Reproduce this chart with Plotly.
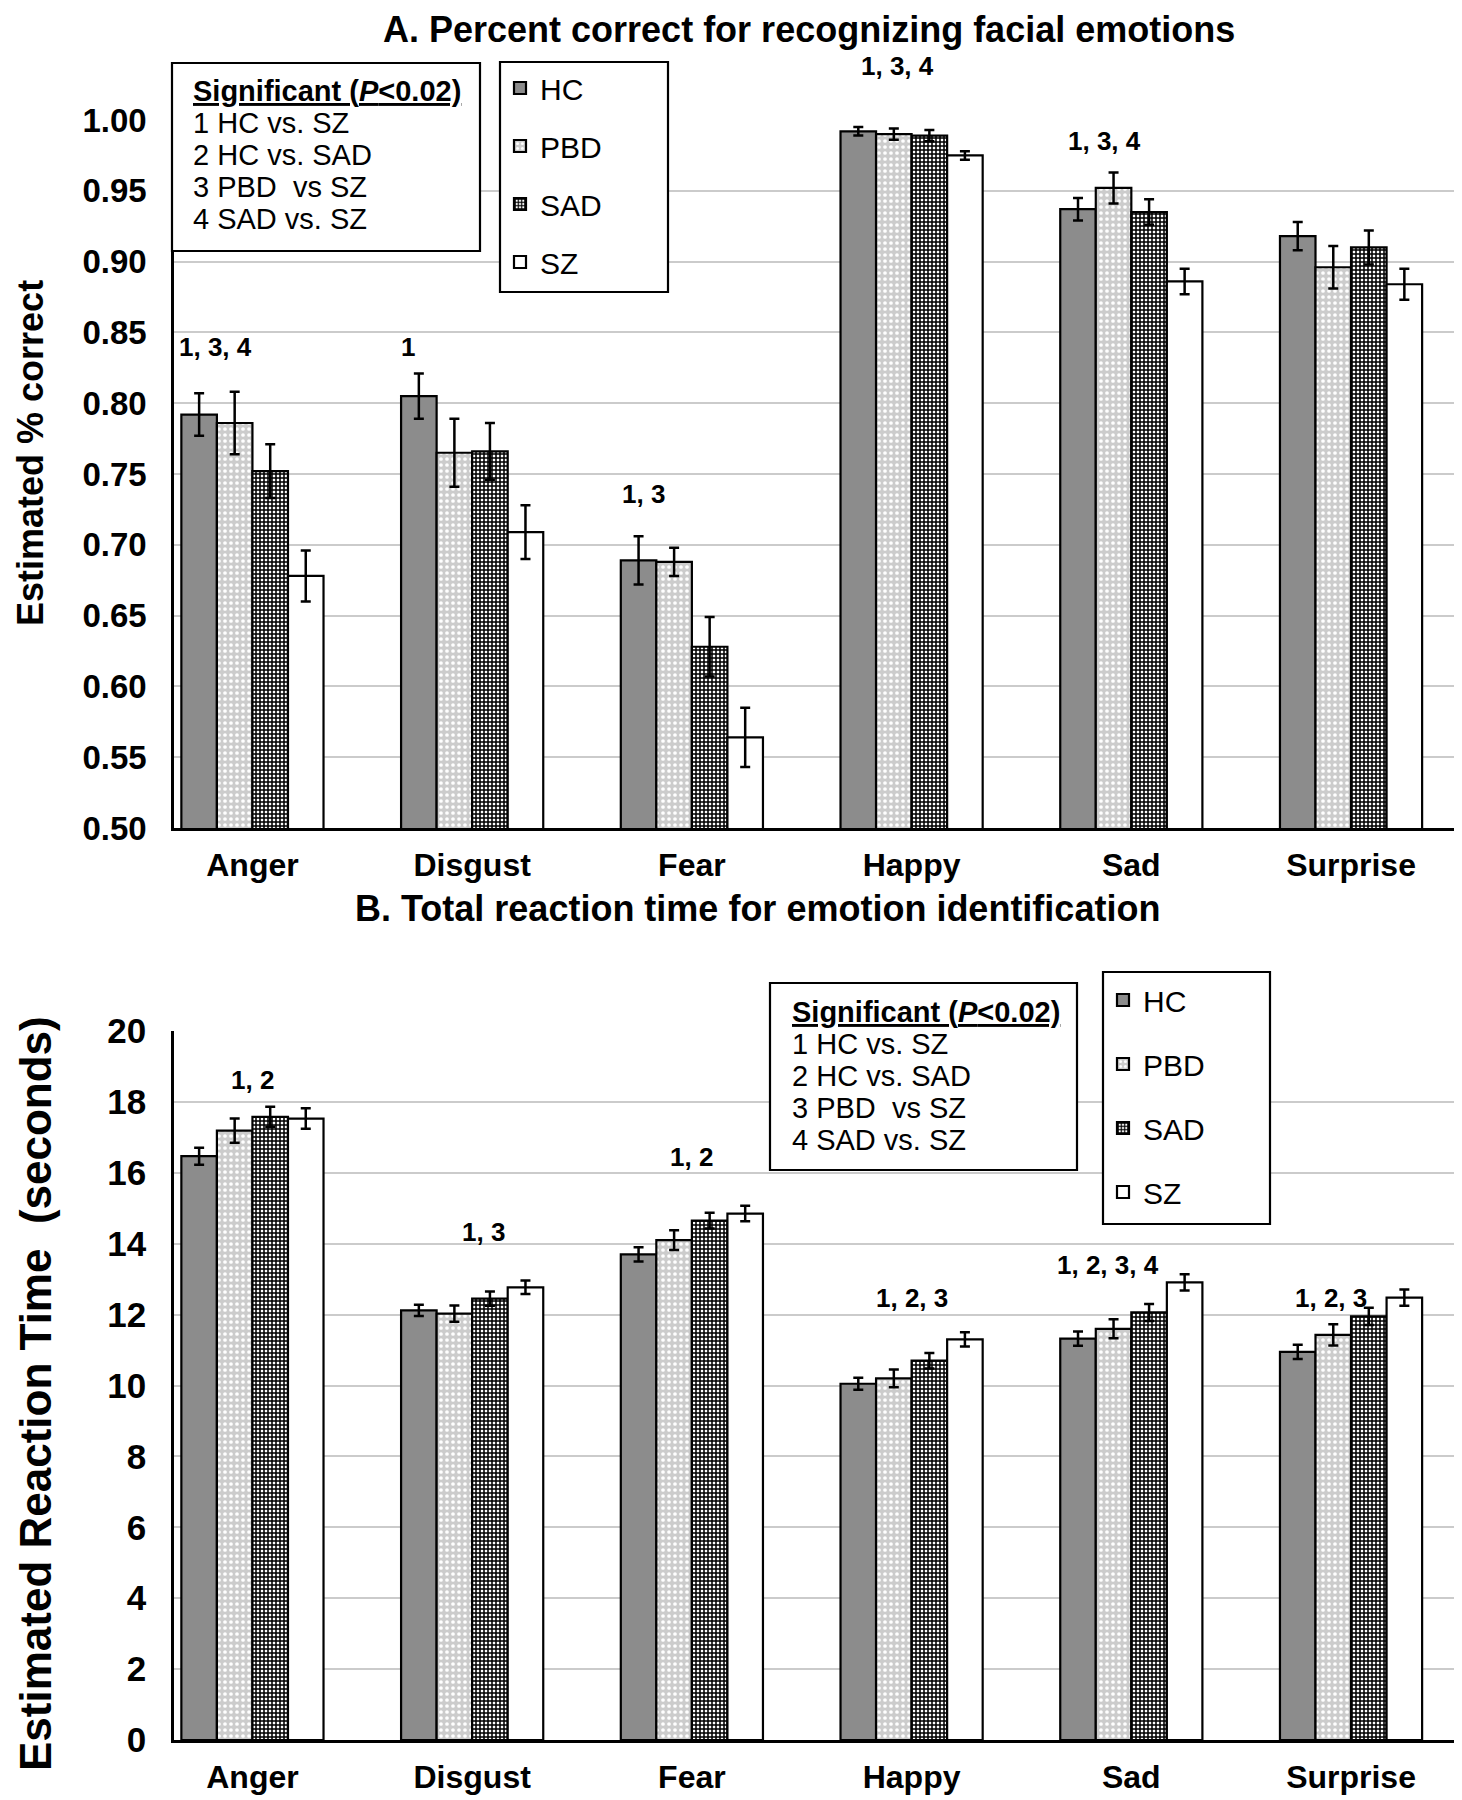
import plotly.graph_objects as go

# ---------------- data ----------------
emotions = ["Anger", "Disgust", "Fear", "Happy", "Sad", "Surprise"]
groups = ["HC", "PBD", "SAD", "SZ"]

acc_hc = [0.792, 0.805, 0.689, 0.992, 0.937, 0.918]
acc_hc_err = [0.015, 0.016, 0.017, 0.003, 0.008, 0.010]
acc_pbd = [0.786, 0.765, 0.688, 0.990, 0.952, 0.896]
acc_pbd_err = [0.022, 0.024, 0.010, 0.004, 0.011, 0.015]
acc_sad = [0.752, 0.766, 0.628, 0.989, 0.935, 0.910]
acc_sad_err = [0.019, 0.020, 0.021, 0.004, 0.009, 0.012]
acc_sz = [0.678, 0.709, 0.564, 0.975, 0.886, 0.884]
acc_sz_err = [0.018, 0.019, 0.021, 0.003, 0.009, 0.011]

rt_hc = [16.47, 12.12, 13.70, 10.05, 11.32, 10.95]
rt_hc_err = [0.24, 0.16, 0.20, 0.17, 0.20, 0.20]
rt_pbd = [17.19, 12.03, 14.10, 10.20, 11.60, 11.43]
rt_pbd_err = [0.34, 0.23, 0.28, 0.25, 0.27, 0.30]
rt_sad = [17.58, 12.45, 14.65, 10.70, 12.06, 11.95]
rt_sad_err = [0.28, 0.20, 0.22, 0.22, 0.24, 0.24]
rt_sz = [17.53, 12.77, 14.85, 11.30, 12.91, 12.48]
rt_sz_err = [0.29, 0.19, 0.22, 0.20, 0.23, 0.23]

sig_a_labels = ["1, 3, 4", "1", "1, 3", "1, 3, 4", "1, 3, 4", ""]
sig_a_y = [0.840, 0.840, 0.736, 1.038, 0.985, None]
sig_b_labels = ["1, 2", "1, 3", "1, 2", "1, 2, 3", "1, 2, 3, 4", "1, 2, 3"]
sig_b_y = [18.62, 14.34, 16.44, 12.47, 13.41, 12.47]

sig_lines = ["1 HC vs. SZ", "2 HC vs. SAD", "3 PBD  vs SZ", "4 SAD vs. SZ"]

acc_ticks = [0.50, 0.55, 0.60, 0.65, 0.70, 0.75, 0.80, 0.85, 0.90, 0.95, 1.00]
rt_ticks = [0, 2, 4, 6, 8, 10, 12, 14, 16, 18, 20]

# ---------------- layout helpers ----------------
W, H = 1454, 1792          # page body has an 8px margin
FONT = "Liberation Sans, Arial, sans-serif"


def px_x(p):
    return p / W


def px_y(p):
    return 1 - p / H


# label x offsets (category units), kept apart from the data
sig_a_dx = [-0.17, -0.29, -0.22, -0.065, -0.12, 0]
sig_b_dx = [0.0, 0.05, 0.0, 0.0, -0.105, -0.09]

styles = {
    "HC": dict(color="#8c8c8c", pattern=None),
    "PBD": dict(color="#d2d2d2", pattern=dict(shape=".", fgcolor="white", bgcolor="#cccccc",
                                              size=6, solidity=0.3, fillmode="replace")),
    "SAD": dict(color="#555555", pattern=dict(shape="+", fgcolor="black", bgcolor="white",
                                              size=4, solidity=0.62, fillmode="replace")),
    "SZ": dict(color="white", pattern=None),
}

fig = go.Figure()

acc_series = [(acc_hc, acc_hc_err), (acc_pbd, acc_pbd_err), (acc_sad, acc_sad_err), (acc_sz, acc_sz_err)]
rt_series = [(rt_hc, rt_hc_err), (rt_pbd, rt_pbd_err), (rt_sad, rt_sad_err), (rt_sz, rt_sz_err)]


def add_bars(series, xa, ya, legend, suffix):
    for g, (vals, errs) in zip(groups, series):
        st = styles[g]
        marker = dict(color=st["color"], line=dict(color="black", width=2.2))
        if st["pattern"]:
            marker["pattern"] = st["pattern"]
        fig.add_trace(go.Bar(
            x=emotions, y=vals, name=g, marker=marker,
            error_y=dict(type="data", array=errs, visible=True, color="black",
                         thickness=2.5, width=5),
            xaxis=xa, yaxis=ya, legend=legend, legendgroup=g + suffix,
        ))


add_bars(acc_series, "x", "y", "legend", "a")
add_bars(rt_series, "x2", "y2", "legend2", "b")

# plot area geometry (figure pixels)
A_top, A_bot = 112, 820
B_top, B_bot = 1023, 1732
X_left = 166
X_RANGE = [-0.357, 5.505]


def xaxis_def(anchor):
    return dict(domain=[px_x(X_left), 1], anchor=anchor, range=X_RANGE, ticks="",
                ticklabelstandoff=7,
                tickfont=dict(family=FONT, size=32, color="black", weight="bold"),
                showline=True, linecolor="black", linewidth=2.5, automargin=False)


def yaxis_def(anchor, top, bot, rng, ticks, fsize, fmt):
    return dict(domain=[px_y(bot), px_y(top)], anchor=anchor, range=rng,
                tickvals=ticks, tickformat=fmt, ticks="", ticklabelstandoff=18,
                tickfont=dict(family=FONT, size=fsize, color="black", weight="bold"),
                showgrid=True, gridcolor="#cbcbcb", gridwidth=2,
                showline=True, linecolor="black", linewidth=2.5, zeroline=False,
                automargin=False)


fig.update_layout(
    width=W, height=H, margin=dict(l=0, r=0, t=0, b=0),
    paper_bgcolor="white", plot_bgcolor="white",
    barmode="group", bargap=0.353, bargroupgap=0,
    font=dict(family=FONT, color="black"),
    xaxis=xaxis_def("y"),
    yaxis=yaxis_def("x", A_top, A_bot, [0.5, 1.0], acc_ticks, 33, ".2f"),
    xaxis2=xaxis_def("y2"),
    yaxis2=yaxis_def("x2", B_top, B_bot, [0, 20], rt_ticks, 35, "d"),
    legend=dict(x=px_x(492), y=px_y(54), xanchor="left", yanchor="top",
                bgcolor="rgba(0,0,0,0)", borderwidth=0,
                font=dict(family=FONT, size=30, color="black"),
                tracegroupgap=16, traceorder="grouped", itemwidth=30),
    legend2=dict(x=px_x(1095), y=px_y(966), xanchor="left", yanchor="top",
                 bgcolor="rgba(0,0,0,0)", borderwidth=0,
                 font=dict(family=FONT, size=30, color="black"),
                 tracegroupgap=22, traceorder="grouped", itemwidth=30),
)

annotations = []
shapes = []

# titles
annotations.append(dict(text="<b>A. Percent correct for recognizing facial emotions</b>",
                        x=px_x(801), y=px_y(22), xref="paper", yref="paper",
                        xanchor="center", yanchor="middle", showarrow=False,
                        font=dict(family=FONT, size=36, color="black")))
annotations.append(dict(text="<b>B. Total reaction time for emotion identification</b>",
                        x=px_x(749), y=px_y(900), xref="paper", yref="paper",
                        xanchor="center", yanchor="middle", showarrow=False,
                        font=dict(family=FONT, size=36, color="black")))

# y-axis titles
annotations.append(dict(text="<b>Estimated % correct</b>", textangle=-90,
                        x=px_x(23), y=px_y(445), xref="paper", yref="paper",
                        xanchor="center", yanchor="middle", showarrow=False,
                        font=dict(family=FONT, size=36, color="black")))
annotations.append(dict(text="<b>Estimated Reaction Time  (seconds)</b>", textangle=-90,
                        x=px_x(27), y=px_y(1386), xref="paper", yref="paper",
                        xanchor="center", yanchor="middle", showarrow=False,
                        font=dict(family=FONT, size=44, color="black")))

# significance labels
A_pxu = (A_bot - A_top) / 0.5
for i, (lab, yv) in enumerate(zip(sig_a_labels, sig_a_y)):
    if not lab:
        continue
    yshift = 0
    yy = yv
    if yv > 1.0:
        yshift = (yv - 1.0) * A_pxu
        yy = 1.0
    annotations.append(dict(text="<b>" + lab + "</b>", x=i + sig_a_dx[i], y=yy, yshift=yshift,
                            xref="x", yref="y", showarrow=False, xanchor="center", yanchor="middle",
                            font=dict(family=FONT, size=26, color="black")))
for i, (lab, yv) in enumerate(zip(sig_b_labels, sig_b_y)):
    annotations.append(dict(text="<b>" + lab + "</b>", x=i + sig_b_dx[i], y=yv,
                            xref="x2", yref="y2", showarrow=False, xanchor="center", yanchor="middle",
                            font=dict(family=FONT, size=26, color="black")))


def box(x0, x1, y0, y1):
    shapes.append(dict(type="rect", xref="paper", yref="paper",
                       x0=px_x(x0), x1=px_x(x1), y0=px_y(y1), y1=px_y(y0),
                       line=dict(color="black", width=2.2), fillcolor="white", layer="above"))


def sig_box(x0, x1, y0, y1, text_x, first_y, step):
    box(x0, x1, y0, y1)
    title_html = ('<span style="text-decoration:underline"><b>Significant (<i>P</i>&lt;0.02)</b></span>')
    texts = [title_html] + sig_lines
    for k, t in enumerate(texts):
        annotations.append(dict(text=t, x=px_x(text_x), y=px_y(first_y + k * step),
                                xref="paper", yref="paper",
                                xanchor="left", yanchor="middle", showarrow=False,
                                font=dict(family=FONT, size=29, color="black")))


sig_box(164, 472, 55, 243, 183, 83, 32)
sig_box(762, 1069, 975, 1162, 782, 1004, 32)

# legend frames
box(492, 660, 54, 284)
box(1095, 1262, 964, 1216)

fig.update_layout(annotations=annotations, shapes=shapes)

fig.write_html("out.html")
